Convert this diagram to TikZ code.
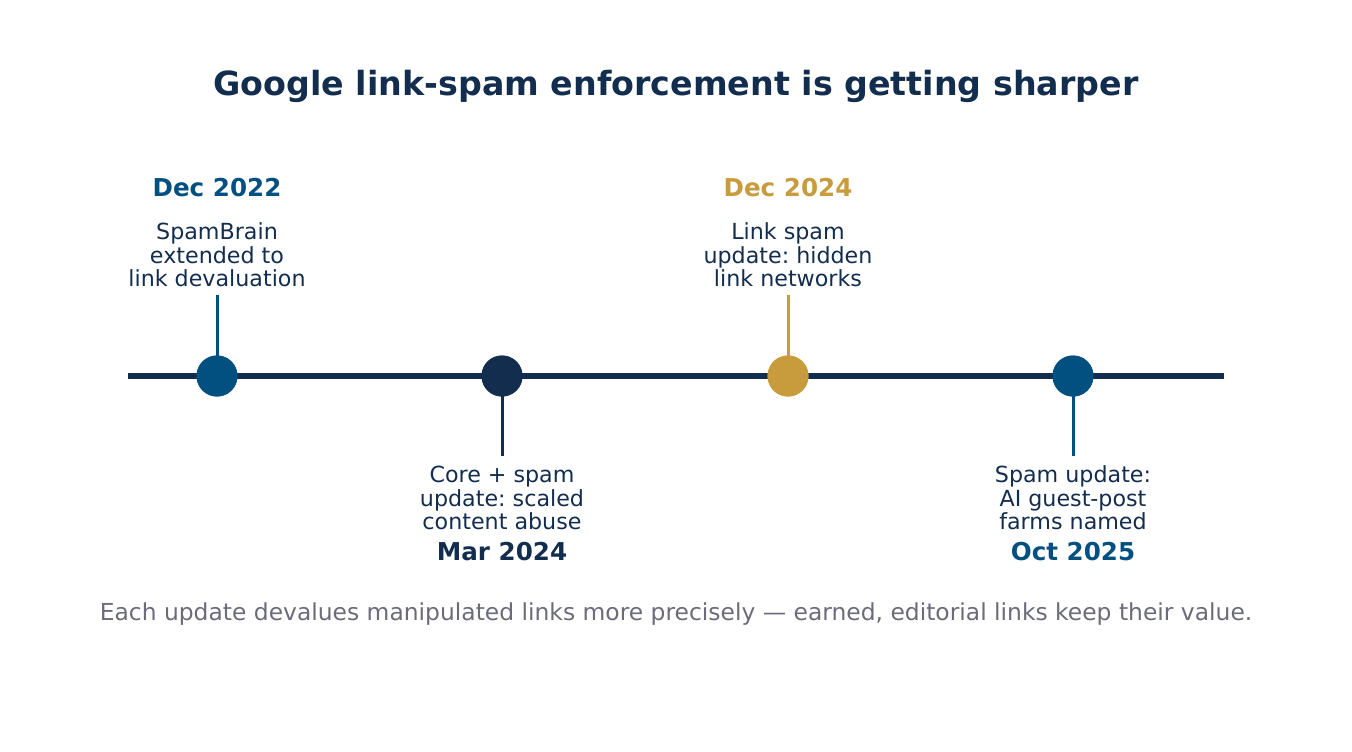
\documentclass[tikz,border=0pt]{standalone}
\usepackage{fontspec}
\setmainfont{DejaVu Sans}
\frenchspacing
\definecolor{navy}{HTML}{132D4E}
\definecolor{blue}{HTML}{02507F}
\definecolor{gold}{HTML}{C89B3C}
\definecolor{greytxt}{HTML}{6B6B7A}
\begin{document}
\begin{tikzpicture}[x=1pt,y=-1pt,
  dot/.style={circle,inner sep=0pt,minimum size=41pt},
  body/.style={text=navy,align=center,font=\fontsize{22.2}{23.5}\selectfont,inner sep=0pt},
  datelbl/.style={font=\bfseries\fontsize{24.6}{28}\selectfont,inner sep=0pt},
  stem/.style={line width=3pt}]
\useasboundingbox (0,0) rectangle (1352,752);
\node[text=navy,font=\bfseries\fontsize{33.3}{38}\selectfont,inner sep=0pt] (title) at (676,86) {Google link-spam enforcement is getting sharper};
% axis
\coordinate (axL) at (128,376);
\coordinate (axR) at (1224,376);
\draw[navy,line width=6pt] (axL) -- (axR);
% stems ends
\coordinate (s1) at (217,295);
\coordinate (s2) at (502,456);
\coordinate (s3) at (788,295);
\coordinate (s4) at (1073,456);
\node[dot,fill=blue] (d1) at (217,376) {};
\node[dot,fill=navy] (d2) at (502,376) {};
\node[dot,fill=gold] (d3) at (788,376) {};
\node[dot,fill=blue] (d4) at (1073,376) {};
\draw[stem,blue] (d1.center) -- (s1);
\draw[stem,navy] (d2.center) -- (s2);
\draw[stem,gold] (d3.center) -- (s3);
\draw[stem,blue] (d4.center) -- (s4);
\node[dot,fill=blue] at (d1) {};
\node[dot,fill=navy] at (d2) {};
\node[dot,fill=gold] at (d3) {};
\node[dot,fill=blue] at (d4) {};
% labels
\node[datelbl,text=blue] (t1) at (217,188) {Dec 2022};
\node[body] (b1) at (217,255) {SpamBrain\\extended to\\link devaluation};
\node[datelbl,text=gold] (t3) at (788,188) {Dec 2024};
\node[body] (b3) at (788,255) {Link spam\\update: hidden\\link networks};
\node[body] (b2) at (502,498) {Core + spam\\update: scaled\\content abuse};
\node[datelbl,text=navy] (t2) at (502,552) {Mar 2024};
\node[body] (b4) at (1073,498) {Spam update:\\AI guest-post\\farms named};
\node[datelbl,text=blue] (t4) at (1073,552) {Oct 2025};
\node[text=greytxt,font=\fontsize{23.4}{26}\selectfont,inner sep=0pt] (foot) at (676,614) {Each update devalues manipulated links more precisely — earned, editorial links keep their value.};
\end{tikzpicture}
\end{document}
